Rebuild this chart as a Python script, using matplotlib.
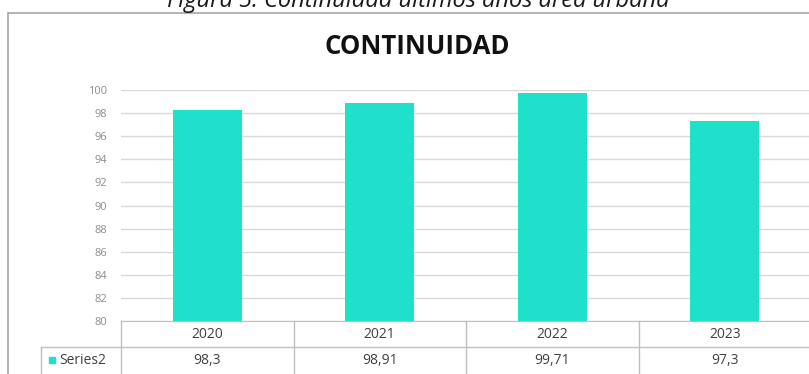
import matplotlib.pyplot as plt
from matplotlib.lines import Line2D
from matplotlib.patches import Rectangle

# Data
years = ["2020", "2021", "2022", "2023"]
continuidad = [98.3, 98.91, 99.71, 97.3]
value_labels = ["98,3", "98,91", "99,71", "97,3"]
series_name = "Series2"
y_ticks = list(range(80, 101, 2))

bar_color = "#1FE0CB"
grid_color = "#D9D9D9"
line_color = "#BFBFBF"
W, H = 809, 374

plt.rcParams['font.family'] = ['Open Sans', 'DejaVu Sans']

fig = plt.figure(figsize=(W / 100, H / 100), dpi=100)

# Caption above the chart (partly cut off at the top, as in the source)
fig.text(418 / W, 1 - 7 / H, "Figura 5. Continuidad últimos años área urbana",
         ha='center', va='baseline', style='italic', fontsize=17, color='#1a1a1a')

# Outer chart border
fig.patches.append(Rectangle((8 / W, -0.1), 1.2, 1 - 13 / H + 0.1,
                             transform=fig.transFigure, fill=False,
                             edgecolor='#A6A6A6', linewidth=1.2))

fig.text(417 / W, 1 - 47 / H, "CONTINUIDAD", ha='center', va='center',
         fontsize=18.5, fontweight='bold', color='#111111')

# Plot area in pixel terms
left, right, top, bottom = 121, 811, 90, 321
ax = fig.add_axes([left / W, (H - bottom) / H, (right - left) / W, (bottom - top) / H])

x = range(len(years))
ax.bar(x, [v - 80 for v in continuidad], bottom=80, width=0.4, color=bar_color, zorder=3)
ax.set_xlim(-0.5, len(years) - 0.5)
ax.set_ylim(80, 100)
ax.set_yticks(y_ticks)
ax.set_yticklabels([str(t) for t in y_ticks])
ax.tick_params(axis='y', length=0, pad=10, labelsize=8, labelcolor='#8C8C8C')
ax.tick_params(axis='x', length=0, labelbottom=False)
ax.grid(axis='y', color=grid_color, linewidth=1, zorder=0)
for s in ['top', 'right', 'left']:
    ax.spines[s].set_visible(False)
ax.spines['bottom'].set_color(line_color)

# Data table below the axis
ph = bottom - top
row_h = 26 / ph
xt = ax.get_xaxis_transform()
for i in range(len(years) + 1):
    ax.add_line(Line2D([i - 0.5, i - 0.5], [0, -3 * row_h], transform=xt,
                       color=line_color, linewidth=1, clip_on=False))
ax.add_line(Line2D([-0.5 - 80 / 172.5, len(years) - 0.5], [-row_h, -row_h], transform=xt,
                   color=line_color, linewidth=1, clip_on=False))
ax.add_line(Line2D([-0.5 - 80 / 172.5, -0.5 - 80 / 172.5], [-row_h, -3 * row_h], transform=xt,
                   color=line_color, linewidth=1, clip_on=False))
for i, (yr, lab) in enumerate(zip(years, value_labels)):
    ax.text(i, -0.5 * row_h, yr, transform=xt, ha='center', va='center',
            fontsize=10, color='#404040')
    ax.text(i, -1.5 * row_h, lab, transform=xt, ha='center', va='center',
            fontsize=10, color='#404040')

# Legend key inside the table
ax.add_patch(Rectangle((-0.5 - 72 / 172.5, -1.5 * row_h - 0.015), 6 / 172.5, 0.03,
                       transform=xt, color=bar_color, clip_on=False))
ax.text(-0.5 - 62 / 172.5, -1.5 * row_h, series_name, transform=xt, ha='left', va='center',
        fontsize=10, color='#404040')

fig.savefig("out.png", dpi=100)
